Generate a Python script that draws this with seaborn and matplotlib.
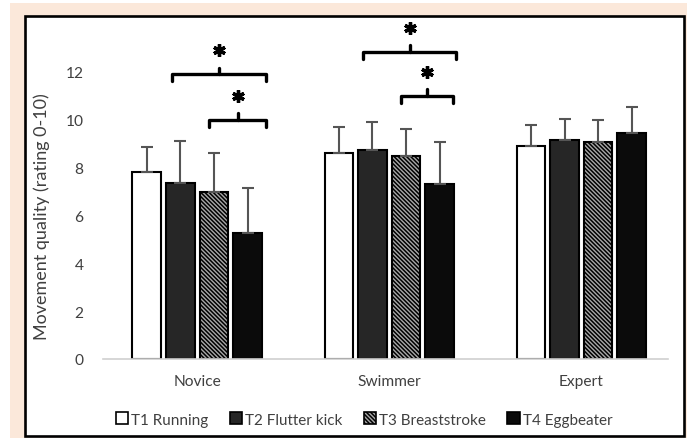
import pandas as pd
import matplotlib.pyplot as plt
import seaborn as sns
from matplotlib.patches import Rectangle

groups = ["Novice", "Swimmer", "Expert"]
tasks = ["T1 Running", "T2 Flutter kick", "T3 Breaststroke", "T4 Eggbeater"]

# mean movement quality per group
t1_mean = [7.8, 8.6, 8.9]
t2_mean = [7.35, 8.75, 9.15]
t3_mean = [7.0, 8.5, 9.05]
t4_mean = [5.25, 7.3, 9.45]

# standard deviations (upper whiskers only)
t1_sd = [1.05, 1.1, 0.9]
t2_sd = [1.75, 1.15, 0.9]
t3_sd = [1.6, 1.1, 0.95]
t4_sd = [1.9, 1.75, 1.1]

means = [t1_mean, t2_mean, t3_mean, t4_mean]
sds = [t1_sd, t2_sd, t3_sd, t4_sd]

rows = []
for task, m, s in zip(tasks, means, sds):
    for g, mv, sv in zip(groups, m, s):
        rows.append({"group": g, "task": task, "mean": mv, "sd": sv})
df = pd.DataFrame(rows)

sns.set_style("white")
plt.rcParams["font.family"] = ["Lato", "DejaVu Sans"]
plt.rcParams["hatch.linewidth"] = 1.1

fig = plt.figure(figsize=(6.87, 4.39), dpi=100, facecolor="white")

# peach background + framed white panel
fig.patches.append(Rectangle((0.0146, 0), 0.99, 0.991, transform=fig.transFigure,
                             facecolor="#fbe8da", edgecolor="none", zorder=-2))
fig.patches.append(Rectangle((0.0364, 0.0046), 0.959, 0.957, transform=fig.transFigure,
                             facecolor="white", edgecolor="black", linewidth=1.9, zorder=-1))

ax = fig.add_axes([0.150, 0.180, 0.822, 0.763])
ax.set_facecolor("none")

faces = ["white", "#262626", "#a8a8a8", "#0b0b0b"]
hatches = [None, None, "\\\\\\\\\\\\\\\\", None]

sns.barplot(data=df, x="group", y="mean", hue="task", palette=faces,
            edgecolor="black", linewidth=1.5, width=0.7, gap=0.15,
            errorbar=None, legend=False, ax=ax, saturation=1)

for cont, h, s in zip(ax.containers, hatches, sds):
    xs = []
    ys = []
    for bar in cont:
        if h:
            bar.set_hatch(h)
        xs.append(bar.get_x() + bar.get_width() / 2)
        ys.append(bar.get_height())
    ax.errorbar(xs, ys, yerr=[[0] * len(s), s], fmt="none", ecolor="#555555",
                elinewidth=1.5, capsize=4, capthick=1.5, zorder=1)

# significance brackets: (group index, x start, x end, y level)
brackets = [(0, -0.13, 0.36, 11.9), (0, 0.06, 0.36, 10.0),
            (1, -0.135, 0.35, 12.85), (1, 0.06, 0.33, 11.0)]
for gi, x0, x1, yb in brackets:
    a, b = gi + x0, gi + x1
    mid = (a + b) / 2
    ax.plot([a, a, b, b], [yb - 0.3, yb, yb, yb - 0.3], color="black", lw=2.4,
            solid_joinstyle="round", solid_capstyle="round", clip_on=False)
    ax.plot([mid, mid], [yb, yb + 0.28], color="black", lw=2.4, clip_on=False)
    ax.plot(mid, yb + 1.0, marker=(6, 2, 0), color="black", markersize=9,
            mew=2.4, clip_on=False)

ax.set_ylim(0, 14)
ax.set_xlim(-0.49, 2.45)
ax.set_yticks([0, 2, 4, 6, 8, 10, 12])
ax.set_xlabel("")
ax.set_ylabel("Movement quality (rating 0-10)", fontsize=13, color="#404040")
ax.yaxis.set_label_coords(-0.094, 6 / 14)
ax.tick_params(axis="both", length=0, labelsize=11.2, labelcolor="#404040")
ax.tick_params(axis="y", pad=14)
ax.tick_params(axis="x", pad=11)
for side in ["left", "right", "top"]:
    ax.spines[side].set_visible(False)
ax.spines["bottom"].set_color("#d0d0d0")
ax.spines["bottom"].set_linewidth(1.2)

handles = [Rectangle((0, 0), 1, 1, facecolor=f, edgecolor="black", hatch=h, linewidth=1.2)
           for f, h in zip(faces, hatches)]
fig.legend(handles, tasks, loc="center", bbox_to_anchor=(0.53, 0.042), ncol=4,
           frameon=False, fontsize=11, handlelength=0.8, handleheight=0.8,
           handletextpad=0.2, columnspacing=1.4, labelcolor="#404040")

fig.savefig("out.png", dpi=100)
